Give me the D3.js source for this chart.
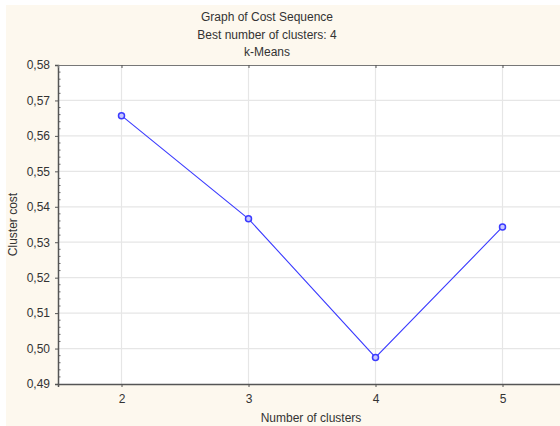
<!DOCTYPE html>
<html><head><meta charset="utf-8">
<script src="https://cdn.jsdelivr.net/npm/d3@7"></script>
<style>html,body{margin:0;padding:0;background:#fff;}svg{display:block;}</style>
</head><body>
<svg id="c" width="560" height="426"></svg>
<script>
const clusters = [2, 3, 4, 5];
const costs = [0.5657, 0.5366, 0.4975, 0.5343];
const yTicks = [0.49, 0.50, 0.51, 0.52, 0.53, 0.54, 0.55, 0.56, 0.57, 0.58];
const titleLines = ["Graph of Cost Sequence", "Best number of clusters: 4", "k-Means"];

const svg = d3.select("#c");
const font = "'Liberation Sans', Arial, sans-serif";
const L = 58, T = 65, B = 384, R = 566;

svg.append("rect").attr("x", 6).attr("y", 5).attr("width", 554).attr("height", 421).attr("fill", "#fdf8ee");

const x = d3.scaleLinear().domain([1.5, 5.5]).range([L, R]);
const y = d3.scaleLinear().domain([0.49, 0.58]).range([B, T]);

svg.append("rect").attr("x", L).attr("y", T).attr("width", R - L).attr("height", B - T).attr("fill", "#fff");

// grid
const g = svg.append("g");
g.selectAll(".gx").data(clusters).join("line")
  .attr("x1", d => x(d)).attr("x2", d => x(d)).attr("y1", T).attr("y2", B)
  .attr("stroke", "#e6e6e6").attr("stroke-width", 1.2);
g.selectAll(".gy").data(yTicks.slice(1, -1)).join("line")
  .attr("x1", L).attr("x2", R).attr("y1", d => y(d)).attr("y2", d => y(d))
  .attr("stroke", "#e6e6e6").attr("stroke-width", 1.2);

// minor y ticks
const minor = d3.range(0, 46).map(i => 0.49 + i * 0.002).filter((d, i) => i % 5 !== 0);
g.selectAll(".my").data(minor).join("line")
  .attr("x1", L).attr("x2", L + 2.5).attr("y1", d => y(d)).attr("y2", d => y(d))
  .attr("stroke", "#666").attr("stroke-width", 1);

// axes
const yAxis = svg.append("g").attr("transform", `translate(${L},0)`)
  .call(d3.axisLeft(y).tickValues(yTicks).tickSize(3).tickPadding(5).tickFormat(d => d3.format(".2f")(d).replace(".", ",")));
const xAxis = svg.append("g").attr("transform", `translate(0,${B})`)
  .call(d3.axisBottom(x).tickValues(clusters).tickSize(3).tickPadding(7).tickFormat(d3.format("d")));
const topAxis = svg.append("g").attr("transform", `translate(0,${T})`)
  .call(d3.axisTop(x).tickValues(clusters).tickSize(-3).tickFormat(""));
[yAxis, xAxis, topAxis].forEach(a => {
  a.selectAll(".domain").attr("stroke", "#555").attr("stroke-width", 1.5);
  a.selectAll(".tick line").attr("stroke", "#555");
  a.selectAll("text").attr("font-family", font).attr("font-size", 12).attr("fill", "#333");
});
topAxis.select(".domain").attr("stroke", "#777").attr("stroke-width", 1.2);

// line
svg.append("path").datum(clusters.map((c, i) => [c, costs[i]]))
  .attr("d", d3.line().x(d => x(d[0])).y(d => y(d[1])))
  .attr("fill", "none").attr("stroke", "#3b3bff").attr("stroke-width", 1.1);
svg.selectAll(".pt").data(clusters.map((c, i) => [c, costs[i]])).join("circle")
  .attr("cx", d => x(d[0])).attr("cy", d => y(d[1])).attr("r", 3)
  .attr("fill", "#c8c8ff").attr("stroke", "#3b3bff").attr("stroke-width", 1.5);

// titles
svg.selectAll(".title").data(titleLines).join("text")
  .attr("x", 267).attr("y", (d, i) => 21 + i * 17.5)
  .attr("text-anchor", "middle").attr("font-family", font).attr("font-size", 12).attr("fill", "#333")
  .text(d => d);

svg.append("text").attr("x", 311).attr("y", 422).attr("text-anchor", "middle")
  .attr("font-family", font).attr("font-size", 12).attr("fill", "#333").text("Number of clusters");
svg.append("text").attr("transform", `translate(17,${(T + B) / 2}) rotate(-90)`).attr("text-anchor", "middle")
  .attr("font-family", font).attr("font-size", 12).attr("fill", "#333").text("Cluster cost");
</script>
</body></html>
